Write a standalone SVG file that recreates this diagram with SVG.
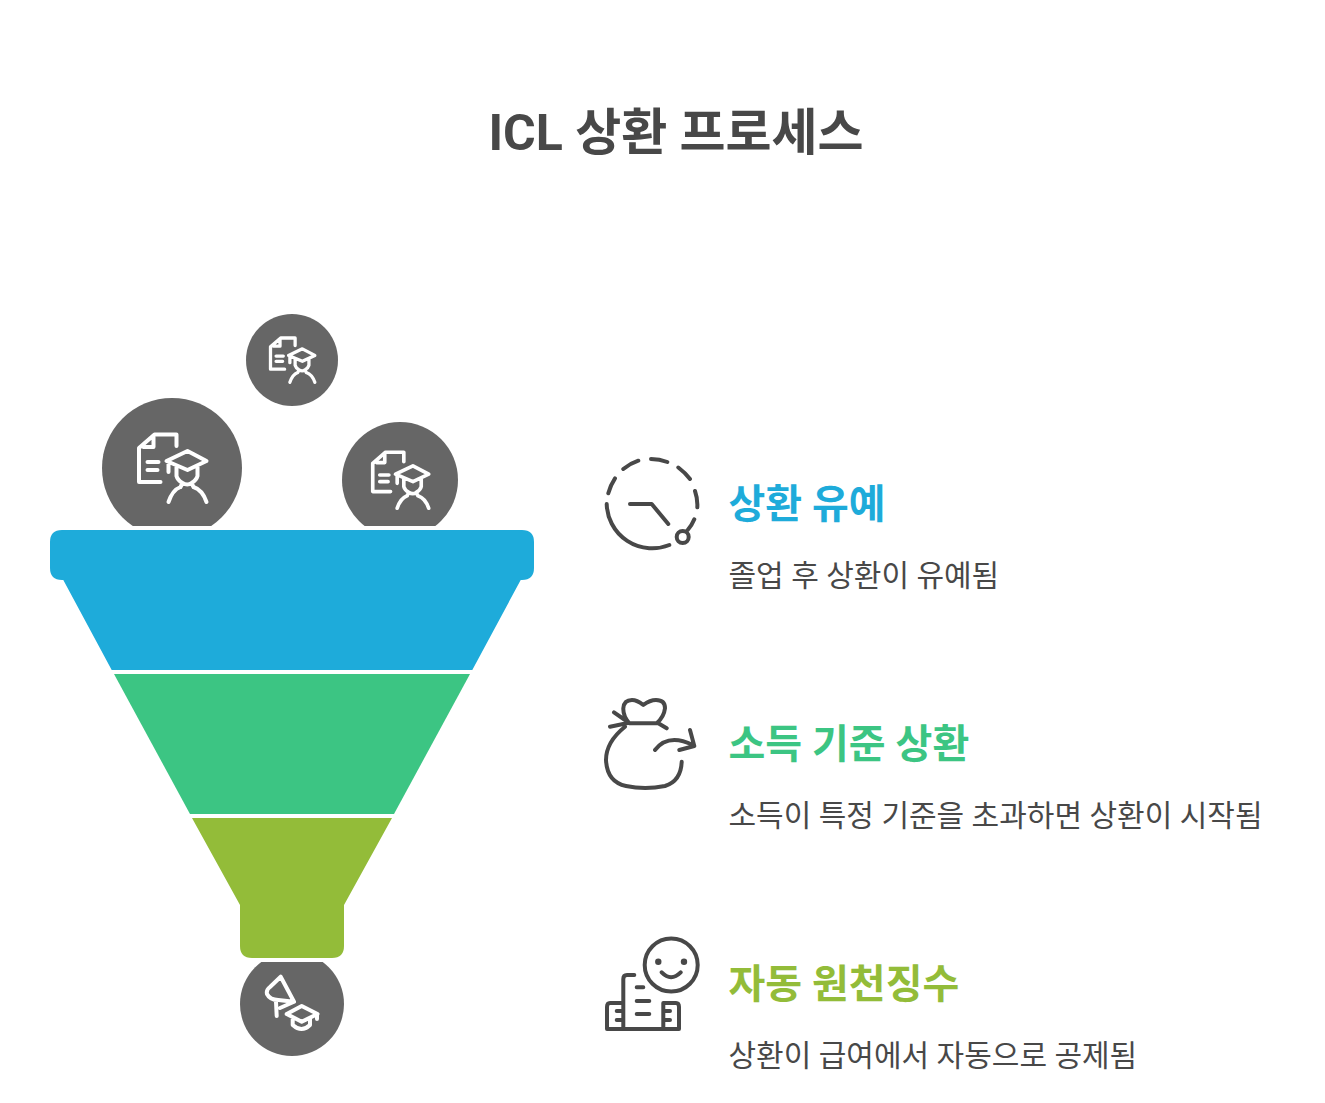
<svg xmlns="http://www.w3.org/2000/svg" width="1325" height="1103" viewBox="0 0 1325 1103">
<style>
text{font-family:Roboto,"Noto Sans CJK KR",sans-serif;}
.t{font-size:50px;font-weight:700;fill:#484848;text-anchor:middle}
.h{font-size:40px;font-weight:700}
.b{font-size:30px;fill:#484848}
.w{fill:none;stroke:#fff;stroke-width:4;stroke-linecap:round;stroke-linejoin:round}
.k{fill:none;stroke:#484848;stroke-width:4;stroke-linecap:round;stroke-linejoin:round}
.c{fill:#666}
</style>
<defs>
<clipPath id="ct"><rect x="0" y="0" width="1325" height="526"/></clipPath>
<clipPath id="cb"><rect x="0" y="962" width="1325" height="141"/></clipPath>
<g id="stu">
<path d="M4 -22V-33.500H-18L-33.500 -20V14H-12M-25 -6H-14M-25 2H-15M-19 -31V-21H-29"/>
<path d="M-6 -7L15 -17L34 -7L15 2ZM-4 -6V4M4 -1V8Q5 12 10 15L8 19M25 -1V8Q24 12 19 15L21 19M10 15Q15 18 19 15M-4 34Q0 22 8 19M21 19Q30 22 34 34"/>
</g>
</defs>
<text class="t" x="676" y="150">ICL 상환 프로세스</text>
<g id="node-top"><circle class="c" cx="292" cy="360" r="46"/><use href="#stu" class="w" transform="translate(292.500 360) scale(.657)" style="stroke-width:5"/></g>
<g id="node-left"><circle class="c" cx="172" cy="468" r="70" clip-path="url(#ct)"/><use href="#stu" class="w" transform="translate(172.500 468)"/></g>
<g id="node-right"><circle class="c" cx="400" cy="480" r="58" clip-path="url(#ct)"/><use href="#stu" class="w" transform="translate(400.500 480) scale(.829)" style="stroke-width:4.400"/></g>
<g id="funnel-1"><path fill="#1eabda" d="M62 530H522Q534 530 534 542V568Q534 580 522 580H520.700L472.300 670H111.700L63.300 580H62Q50 580 50 568V542Q50 530 62 530Z"/></g>
<g id="funnel-2"><path fill="#3cc583" d="M114 674H470L394 814H190Z"/></g>
<g id="funnel-3"><path fill="#93bc39" d="M192 818H392L344 905V946Q344 958 332 958H252Q240 958 240 946V905Z"/></g>
<g id="node-bottom"><circle class="c" cx="292" cy="1004" r="52" clip-path="url(#cb)"/>
<path class="w" d="M280.700 976.700L294 1001.700L278.300 1000Q270 1000 267 994Q266 990 270 987ZM276 1001.700L276.700 1016M280 1008L294 1001.700M286.700 1014L301.700 1006L317.500 1014L301.700 1021.700ZM292.700 1019V1025Q301.700 1033 310 1025V1019M317 1014V1019"/></g>
<g id="item-1">
<path class="k" d="M606.700 504A45.500 45.500 0 0 0 669.300 545M608.300 493.300Q610.500 485 615 478.300M623.300 469Q630 463.500 638.300 460.700M651 459Q659.500 459 667.300 462M678.300 467.500Q685 472.500 690 479M695 491Q697.800 499 697.300 507.300M694.300 519.300Q692 525 687.700 530M630 504H651.700L668.300 524"/>
<circle class="k" cx="682.700" cy="537" r="6"/>
<text class="h" x="728.500" y="518" fill="#1eabda">상환 유예</text>
<text class="b" x="728.500" y="585.500">졸업 후 상환이 유예됨</text>
</g>
<g id="item-2">
<path class="k" d="M629.300 723.300Q623 716 623.300 708.300Q624 700 632 700Q637 700 643.300 705Q650 700 656 700Q665 700 665 708.300Q664 717 656.700 723.300ZM614 712.300L625 720M610 726.700L626.700 723.300M658.300 723.300L666.700 728.300M625 726.700Q606 742 606 760Q607 782 626 786Q645 790 665 786Q681 781 681.700 761.700M655 750Q668 733 693 745M690 730L694.300 746L679.300 750"/>
<text class="h" x="728.500" y="758" fill="#3cc583">소득 기준 상환</text>
<text class="b" x="728.500" y="825.500">소득이 특정 기준을 초과하면 상환이 시작됨</text>
</g>
<g id="item-3">
<circle class="k" cx="671.200" cy="965" r="26.500"/>
<circle cx="658.300" cy="961.700" r="3.200" fill="#484848"/><circle cx="684" cy="961.700" r="3.200" fill="#484848"/>
<path class="k" d="M661.700 972.300Q671 982 680.700 972.300M634.300 975H627Q623.300 975 623.300 979V1029M623 1003H610Q607 1003 607 1007V1029H679V1007Q679 1003 676 1003H663.300V1029M636.700 987.300H643.300M636.700 1001H649.300M636.700 1014H649.300M616.700 1011H621.700M616.700 1020H621.700M665 1011H670M665 1020H670"/>
<text class="h" x="728.500" y="998" fill="#93bc39">자동 원천징수</text>
<text class="b" x="728.500" y="1065.500">상환이 급여에서 자동으로 공제됨</text>
</g>
</svg>
